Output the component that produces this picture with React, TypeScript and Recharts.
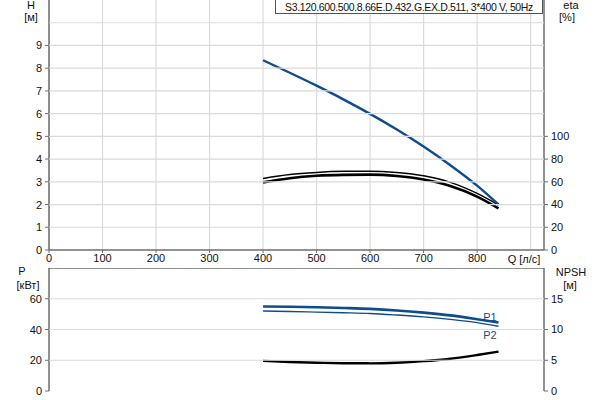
import React from 'react';
import { LineChart, Line, XAxis, YAxis, CartesianGrid } from 'recharts';

const flow = [400, 450, 500, 550, 600, 650, 700, 750, 800, 840];
const head = [8.35, 7.8, 7.23, 6.63, 5.99, 5.3, 4.55, 3.73, 2.83, 2.0];
const etaUpper = [63, 66.5, 68.3, 69.2, 69.4, 68.2, 65.3, 59.5, 49.8, 39.6];
const etaLower = [59.5, 63.2, 65.3, 66.1, 66.3, 65.1, 62, 56.3, 47, 36.6];
const powerP1 = [55, 54.8, 54.5, 54, 53.4, 52.4, 51, 49.2, 46.7, 44.5];
const powerP2 = [52, 51.7, 51.3, 50.9, 50.4, 49.4, 48.2, 46.6, 44.5, 42.1];
const npsh = [4.9, 4.72, 4.6, 4.52, 4.5, 4.6, 4.85, 5.25, 5.85, 6.4];

const qTicks = [0, 100, 200, 300, 400, 500, 600, 700, 800];
const qGrid = [0, 100, 200, 300, 400, 500, 600, 700, 800, 900];
const hTicks = [0, 1, 2, 3, 4, 5, 6, 7, 8, 9, 10];
const hLabelMax = 9;
const etaTicks = [0, 20, 40, 60, 80, 100];
const pTicks = [0, 20, 40, 60, 80];
const pLabelMax = 60;
const npshTicks = [0, 5, 10, 15];

const topData = flow.map((q, i) => ({ q, h: head[i], etaA: etaUpper[i], etaB: etaLower[i] }));
const bottomData = flow.map((q, i) => ({ q, p1: powerP1[i], p2: powerP2[i], npsh: npsh[i] }));

const BLUE = '#0f4c8c';
const AXIS = '#6e6e6e';
const GRID = '#dadada';
const FONT = '"Liberation Sans", Arial, sans-serif';
const tickStyle = { fontSize: 11, fill: '#111', fontFamily: FONT };
const PLOT_L = 49;
const PLOT_R = 544;

// left axis tick that also draws the horizontal grid line across the plot
const GridTick = ({ y, payload, labelMax, topValue }: any) => {
  const v = payload.value;
  return (
    <g>
      {v > 0 && v < topValue && <line x1={PLOT_L} x2={PLOT_R} y1={y} y2={y} stroke={GRID} strokeWidth={1.2} />}
      {v === topValue && topValue === 80 && <line x1={PLOT_L} x2={PLOT_R} y1={y} y2={y} stroke={AXIS} strokeWidth={1.5} />}
      {v === topValue && topValue !== 80 && <line x1={PLOT_L} x2={PLOT_R} y1={y} y2={y} stroke={GRID} strokeWidth={1.2} />}
      {v <= labelMax && (
        <>
          <line x1={PLOT_L - 4} x2={PLOT_L} y1={y} y2={y} stroke={AXIS} strokeWidth={1} />
          <text x={PLOT_L - 7} y={y} dy={4} textAnchor="end" {...tickStyle}>
            {v}
          </text>
        </>
      )}
    </g>
  );
};

const Txt = ({ x, y, children, color = '#111' }: any) => (
  <div
    style={{
      position: 'absolute',
      left: x,
      top: y,
      transform: 'translate(-50%, -50%)',
      fontSize: 11,
      fontFamily: FONT,
      color,
      whiteSpace: 'nowrap',
      lineHeight: 1,
    }}
  >
    {children}
  </div>
);

export default function App() {
  return (
    <div style={{ position: 'absolute', left: 0, top: 0, width: 600, height: 400, background: '#fff' }}>
      <div style={{ position: 'absolute', left: 0, top: 0 }}>
        <LineChart width={600} height={270} data={topData} margin={{ top: 0, right: 0, bottom: 0, left: 0 }}>
          <CartesianGrid stroke={GRID} strokeWidth={1.2} horizontal={false} verticalValues={qGrid} />
          <YAxis
            yAxisId="h"
            type="number"
            domain={[0, 11]}
            ticks={hTicks}
            interval={0}
            width={49}
            tickLine={false}
            tick={<GridTick labelMax={hLabelMax} topValue={10} />}
            stroke={AXIS}
            axisLine={{ stroke: AXIS, strokeWidth: 1.5 }}
          />
          <XAxis
            dataKey="q"
            type="number"
            domain={[0, 925]}
            ticks={qTicks}
            interval={0}
            height={20}
            tick={tickStyle}
            tickSize={3}
            tickMargin={1}
            stroke={AXIS}
            axisLine={{ stroke: AXIS, strokeWidth: 1.5 }}
          />
          <YAxis
            yAxisId="eta"
            orientation="right"
            type="number"
            domain={[0, 220]}
            ticks={etaTicks}
            interval={0}
            width={56}
            tick={tickStyle}
            tickSize={4}
            tickMargin={3}
            stroke={AXIS}
            axisLine={{ stroke: AXIS, strokeWidth: 1.5 }}
          />
          <Line yAxisId="eta" dataKey="etaA" type="monotone" stroke="#000" strokeWidth={1.5} dot={false} isAnimationActive={false} />
          <Line yAxisId="eta" dataKey="etaB" type="monotone" stroke="#000" strokeWidth={2.6} dot={false} isAnimationActive={false} />
          <Line yAxisId="h" dataKey="h" type="monotone" stroke={BLUE} strokeWidth={2.4} dot={false} isAnimationActive={false} />
        </LineChart>
      </div>

      <div style={{ position: 'absolute', left: 0, top: 268 }}>
        <LineChart width={600} height={132} data={bottomData} margin={{ top: 0, right: 0, bottom: 9, left: 0 }}>
          <CartesianGrid stroke={GRID} strokeWidth={1.2} horizontal={false} verticalValues={qGrid} />
          <YAxis
            yAxisId="p"
            type="number"
            domain={[0, 80]}
            ticks={pTicks}
            interval={0}
            width={49}
            tickLine={false}
            tick={<GridTick labelMax={pLabelMax} topValue={80} />}
            stroke={AXIS}
            axisLine={{ stroke: AXIS, strokeWidth: 1.5 }}
          />
          <XAxis
            dataKey="q"
            type="number"
            domain={[0, 925]}
            ticks={qTicks}
            height={0}
            tick={false}
            tickSize={0}
            axisLine={{ stroke: AXIS, strokeWidth: 1.5 }}
          />
          <YAxis
            yAxisId="n"
            orientation="right"
            type="number"
            domain={[0, 20]}
            ticks={npshTicks}
            interval={0}
            width={56}
            tick={tickStyle}
            tickSize={4}
            tickMargin={3}
            stroke={AXIS}
            axisLine={{ stroke: AXIS, strokeWidth: 1.5 }}
          />
          <Line yAxisId="p" dataKey="p1" type="monotone" stroke={BLUE} strokeWidth={2.6} dot={false} isAnimationActive={false} />
          <Line yAxisId="p" dataKey="p2" type="monotone" stroke={BLUE} strokeWidth={1.4} dot={false} isAnimationActive={false} />
          <Line yAxisId="n" dataKey="npsh" type="monotone" stroke="#000" strokeWidth={2.4} dot={false} isAnimationActive={false} />
        </LineChart>
      </div>

      <div
        style={{
          position: 'absolute',
          left: 275,
          top: -1,
          width: 268,
          height: 15,
          boxSizing: 'border-box',
          border: '1px solid #555',
          background: '#fff',
          fontSize: 10.5,
          letterSpacing: -0.35,
          fontFamily: FONT,
          color: '#111',
          lineHeight: '14px',
          textAlign: 'center',
          whiteSpace: 'nowrap',
        }}
      >
        S3.120.600.500.8.66E.D.432.G.EX.D.511, 3*400 V, 50Hz
      </div>

      <Txt x={31} y={5}>H</Txt>
      <Txt x={31} y={17}>[м]</Txt>
      <Txt x={571} y={5}>eta</Txt>
      <Txt x={567} y={17}>[%]</Txt>
      <Txt x={524} y={259}>Q [л/с]</Txt>
      <Txt x={22} y={271}>P</Txt>
      <Txt x={28} y={285}>[кВт]</Txt>
      <Txt x={571} y={272}>NPSH</Txt>
      <Txt x={570} y={285}>[м]</Txt>
      <Txt x={490} y={317} color={BLUE}>P1</Txt>
      <Txt x={490} y={335} color={BLUE}>P2</Txt>
    </div>
  );
}
